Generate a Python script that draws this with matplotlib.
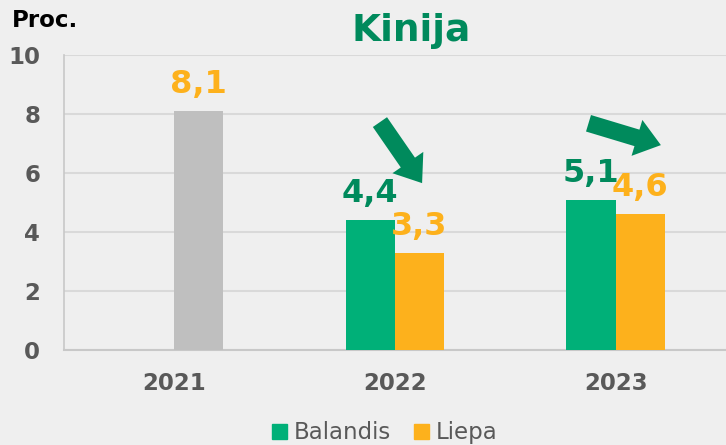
import numpy as np
import matplotlib
matplotlib.use("Agg")
import matplotlib.pyplot as plt
from matplotlib.patches import Patch

# ---------------------------------
# DATA
# ---------------------------------

years = ["2021", "2022", "2023"]
balandis = [np.nan, 4.4, 5.1]
liepa = [8.1, 3.3, 4.6]
series_names = ["Balandis", "Liepa"]

# ---------------------------------
# STYLE
# ---------------------------------

BG = "#EFEFEF"
GREEN = "#00B078"
DARK_GREEN = "#008A5C"
ORANGE = "#FDB11C"
GRAY_BAR = "#BFBFBF"
TICK_GRAY = "#595959"

plt.rcParams["font.family"] = ["DejaVu Sans"]

fig = plt.figure(figsize=(7.26, 4.45), dpi=100, facecolor=BG)
ax = fig.add_axes([0.088, 0.2135, 0.912, 0.6625], facecolor=BG)

x = np.arange(len(years))
w = 0.223

liepa_colors = [GRAY_BAR, ORANGE, ORANGE]

ax.bar(x - w / 2, balandis, w, color=GREEN, label=series_names[0], zorder=3)
ax.bar(x + w / 2, liepa, w, color=liepa_colors, label=series_names[1], zorder=3)

# value labels
for xi, v in zip(x, balandis):
    if np.isnan(v):
        continue
    ax.annotate(f"{v:.1f}".replace(".", ","), (xi - w / 2, v),
                xytext=(0, 13), textcoords="offset points",
                ha="center", va="baseline", fontsize=23,
                fontweight="bold", color=DARK_GREEN, zorder=5)
for xi, v in zip(x, liepa):
    ax.annotate(f"{v:.1f}".replace(".", ","), (xi + w / 2, v),
                xytext=(0, 13), textcoords="offset points",
                ha="center", va="baseline", fontsize=23,
                fontweight="bold", color=ORANGE, zorder=5)

# trend arrows
arrow_style = "simple,tail_width=0.62,head_width=1.35,head_length=0.9"
ax.annotate("", xy=(1.123, 5.66), xytext=(0.932, 7.73),
            arrowprops=dict(arrowstyle=arrow_style, mutation_scale=20,
                            color=DARK_GREEN, lw=0, shrinkA=0, shrinkB=0),
            zorder=6)
ax.annotate("", xy=(2.205, 6.95), xytext=(1.877, 7.69),
            arrowprops=dict(arrowstyle=arrow_style, mutation_scale=20,
                            color=DARK_GREEN, lw=0, shrinkA=0, shrinkB=0),
            zorder=6)

# axes
ax.set_xlim(-0.5, 2.5)
ax.set_ylim(0, 10)
ax.set_yticks([0, 2, 4, 6, 8, 10])
ax.set_xticks(x)
ax.set_xticklabels(years)
ax.tick_params(axis="both", length=0, labelsize=16.5, labelcolor=TICK_GRAY)
ax.tick_params(axis="y", pad=17)
ax.tick_params(axis="x", pad=16)
for lab in ax.get_xticklabels() + ax.get_yticklabels():
    lab.set_fontweight("bold")

ax.yaxis.grid(True, color="#D9D9D9", lw=1.5, zorder=0)
ax.set_axisbelow(True)
for s in ["top", "right"]:
    ax.spines[s].set_visible(False)
ax.spines["left"].set_color("#C8C8C8")
ax.spines["bottom"].set_color("#C8C8C8")
ax.spines["left"].set_linewidth(1.2)
ax.spines["bottom"].set_linewidth(1.5)

# titles
fig.text(0.566, 0.908, "Kinija", ha="center", va="baseline",
         fontsize=27, fontweight="bold", color=DARK_GREEN)
fig.text(0.016, 0.939, "Proc.", ha="left", va="baseline",
         fontsize=16.5, fontweight="bold", color="black")

# legend
handles = [Patch(color=GREEN), Patch(color=ORANGE)]
fig.legend(handles, series_names, loc="center", bbox_to_anchor=(0.53, 0.027),
           ncol=2, frameon=False, fontsize=16.5, labelcolor=TICK_GRAY,
           handlelength=0.65, handleheight=0.65, handletextpad=0.3,
           columnspacing=1.0)

plt.savefig("out.png", dpi=100, facecolor=BG)
plt.close()
